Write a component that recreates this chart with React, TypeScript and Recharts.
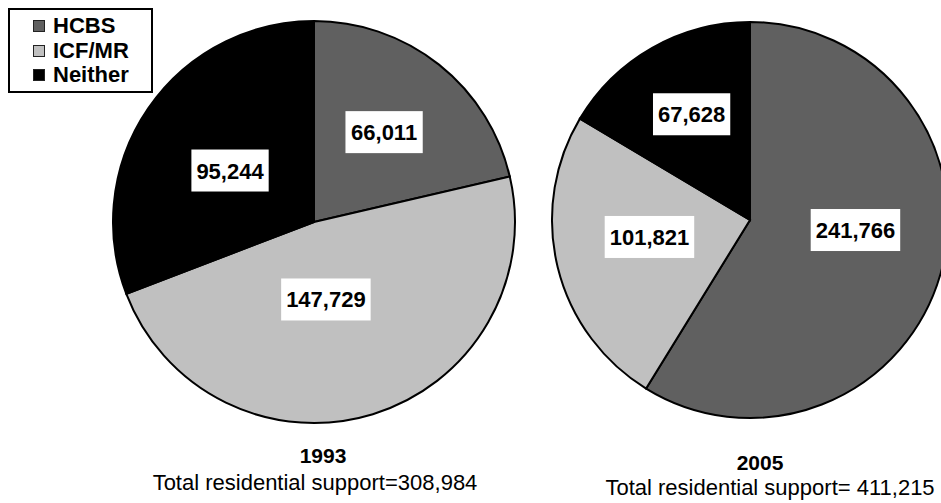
import { PieChart, Pie, Cell, Legend } from 'recharts';

const CATEGORIES = ['HCBS', 'ICF/MR', 'Neither'];
const VALUES_1993 = [66011, 147729, 95244];
const VALUES_2005 = [241766, 101821, 67628];
const YEARS = ['1993', '2005'];
const TOTAL_TEXT = ['Total residential support=308,984', 'Total residential support= 411,215'];

const COLORS = ['#606060', '#c0c0c0', '#000000'];
const FONT = '"Liberation Sans", Arial, Helvetica, sans-serif';

// label placement per slice: [degrees off the slice mid angle, fraction of radius]
const LABEL_POS_1993 = [
  [0.5, 0.567],
  [-8.3, 0.39],
  [3.0, 0.49],
];
const LABEL_POS_2005 = [
  [10.4, 0.535],
  [-4.2, 0.515],
  [-0.7, 0.61],
];

const data1993 = CATEGORIES.map((name, i) => ({ name, value: VALUES_1993[i] }));
const data2005 = CATEGORIES.map((name, i) => ({ name, value: VALUES_2005[i] }));

// rough Arial bold width, 22px
const textWidth = (s: string) =>
  s.split('').reduce((w, c) => w + (c === ',' ? 0.278 : 0.556), 0) * 22;

const makeLabel = (pos: number[][]) => (props: any) => {
  const { cx, cy, midAngle, outerRadius, index, value } = props;
  const [da, f] = pos[index];
  const a = ((midAngle + da) * Math.PI) / 180;
  const x = cx + outerRadius * f * Math.cos(a);
  const y = cy - outerRadius * f * Math.sin(a);
  const text = Number(value).toLocaleString('en-US');
  const w = textWidth(text) + 10;
  return (
    <g key={`lbl-${index}`}>
      <rect x={x - w / 2} y={y - 21} width={w} height={42} fill="#fff" />
      <text
        x={x}
        y={y + 8}
        textAnchor="middle"
        fontFamily={FONT}
        fontWeight="bold"
        fontSize={22}
        fill="#000"
      >
        {text}
      </text>
    </g>
  );
};

function LegendBox() {
  return (
    <div
      style={{
        width: 145,
        height: 85,
        boxSizing: 'border-box',
        border: '2px solid #000',
        background: '#fff',
        paddingTop: 4,
        fontFamily: FONT,
        fontWeight: 'bold',
        fontSize: 22,
        lineHeight: '24.5px',
      }}
    >
      {CATEGORIES.map((c, i) => (
        <div key={c} style={{ display: 'flex', alignItems: 'center', height: 24.5 }}>
          <span
            style={{
              display: 'inline-block',
              width: 12,
              height: 12,
              boxSizing: 'border-box',
              border: '1.5px solid #222',
              background: COLORS[i],
              marginLeft: 23,
              marginRight: 8,
            }}
          />
          <span>{c}</span>
        </div>
      ))}
    </div>
  );
}

export default function App() {
  return (
    <div style={{ position: 'absolute', left: 0, top: 0, width: 941, height: 503, background: '#fff' }}>
      <PieChart width={941} height={503} margin={{ top: 0, right: 0, bottom: 0, left: 0 }}>
        <Legend
          layout="vertical"
          align="center"
          verticalAlign="middle"
          content={() => <LegendBox />}
          wrapperStyle={{ left: 8, top: 8, width: 145, height: 85 }}
        />
        <Pie
          data={data1993}
          dataKey="value"
          nameKey="name"
          cx={314}
          cy={222}
          outerRadius={201}
          startAngle={90}
          endAngle={-270}
          stroke="#000"
          strokeWidth={2}
          labelLine={false}
          label={makeLabel(LABEL_POS_1993)}
          isAnimationActive={false}
        >
          {data1993.map((d, i) => (
            <Cell key={d.name} fill={COLORS[i]} />
          ))}
        </Pie>
        <Pie
          data={data2005}
          dataKey="value"
          nameKey="name"
          cx={750}
          cy={220}
          outerRadius={198}
          startAngle={90}
          endAngle={-270}
          stroke="#000"
          strokeWidth={2}
          labelLine={false}
          label={makeLabel(LABEL_POS_2005)}
          isAnimationActive={false}
        >
          {data2005.map((d, i) => (
            <Cell key={d.name} fill={COLORS[i]} />
          ))}
        </Pie>
      </PieChart>
      <svg
        width={941}
        height={503}
        style={{ position: 'absolute', left: 0, top: 0, pointerEvents: 'none' }}
        fontFamily={FONT}
      >
        <text x={323} y={463} textAnchor="middle" fontWeight="bold" fontSize={21}>
          {YEARS[0]}
        </text>
        <text x={315} y={490} textAnchor="middle" fontSize={22}>
          {TOTAL_TEXT[0]}
        </text>
        <text x={760} y={470} textAnchor="middle" fontWeight="bold" fontSize={21}>
          {YEARS[1]}
        </text>
        <text x={770} y={495} textAnchor="middle" fontSize={22}>
          {TOTAL_TEXT[1]}
        </text>
      </svg>
    </div>
  );
}
